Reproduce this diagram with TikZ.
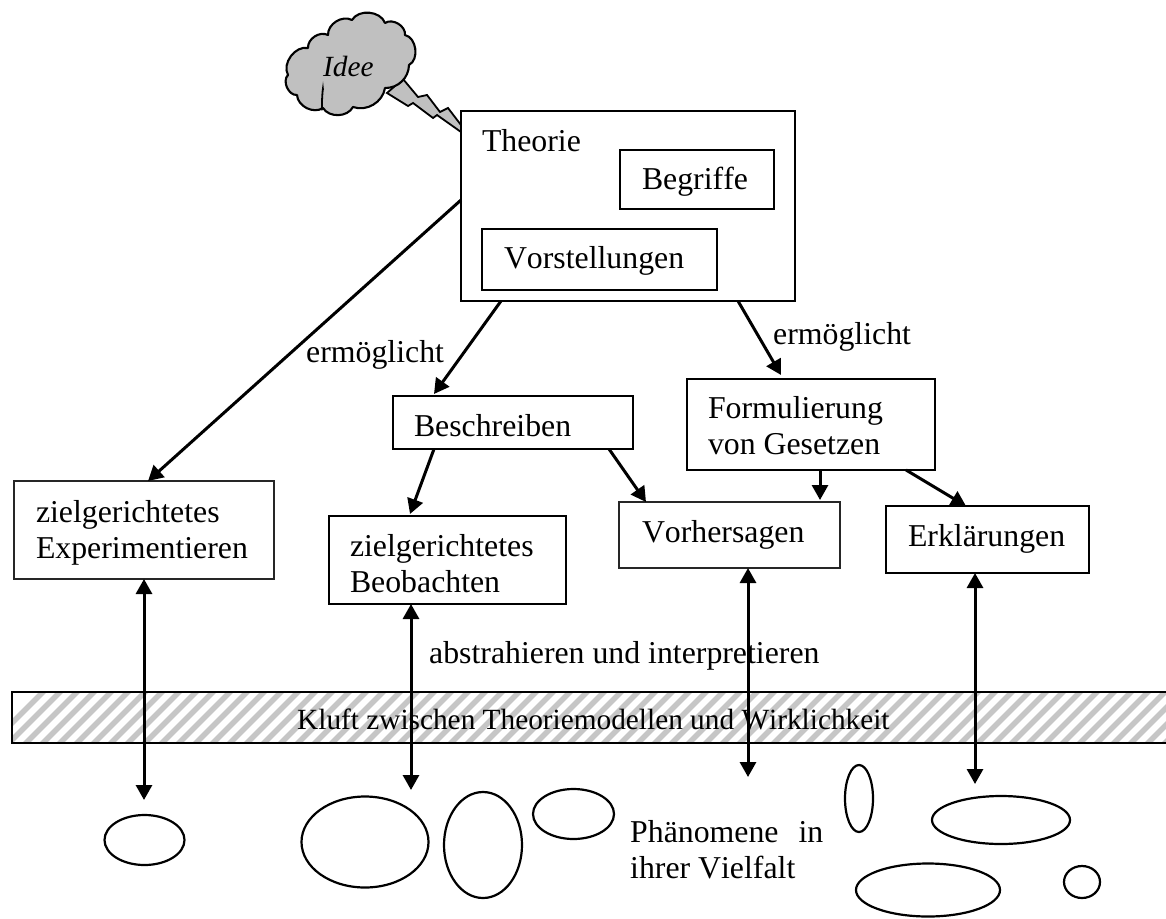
\documentclass[tikz,border=0pt]{standalone}
\usepackage{fontspec}
\setmainfont[Kerning=Off]{Liberation Serif}
\usetikzlibrary{arrows.meta}
\definecolor{hatchgray}{HTML}{C6C6C6}
\definecolor{cloudgray}{HTML}{C0C0C0}
\newcommand{\bigfont}{\fontsize{31.8}{36.8}\selectfont}
\newcommand{\smallfont}{\fontsize{29.3}{35}\selectfont}
\tikzset{
  arr/.style={line width=3pt,-{Triangle[length=15pt,width=16pt]}},
  dbl/.style={line width=3pt,{Triangle[length=15pt,width=16pt]}-{Triangle[length=15pt,width=16pt]}},
  label/.style={font=\bigfont,inner sep=0pt,anchor=base west},
  blob/.style={line width=2.2pt},
}
% name, x1, y1, x2, y2, text left, first baseline, text
\newcommand{\bx}[8]{%
  \pgfmathsetmacro{\bxw}{#4-#2}\pgfmathsetmacro{\bxh}{#5-#3}%
  \pgfmathsetmacro{\bxcx}{(#2+#4)/2}\pgfmathsetmacro{\bxcy}{(#3+#5)/2}%
  \pgfmathsetmacro{\bxoff}{#6-#2}\pgfmathsetmacro{\bxr}{\bxcy-#7}%
  \node[draw,line width=2.7pt,rectangle,outer sep=0pt,inner sep=0pt,minimum width=\bxw pt,minimum height=\bxh pt,font=\bigfont] (#1) at (\bxcx,\bxcy)
    {\makebox[\bxw pt][l]{\hspace*{\bxoff pt}\raisebox{\bxr pt}[0pt][0pt]{\parbox[t]{300pt}{\raggedright #8}}}};%
}
\begin{document}
\begin{tikzpicture}[x=1pt,y=-1pt]
\useasboundingbox (0,0) rectangle (1166,918);
% band
\begin{scope}
\clip (12,692) rectangle (1166,743);
\foreach \i in {0,...,72}{
  \draw[hatchgray,line width=5.5pt] ({12+\i*17-25},748) -- ({12+\i*17+37},686);
}
\end{scope}
\node[draw,line width=2.7pt,rectangle,outer sep=0pt,minimum width=1156pt,minimum height=51pt,inner sep=0pt,anchor=north west] (kluft) at (12,692) {};
\node[font=\smallfont,inner sep=0pt,anchor=base west] (kluftt) at (297,729) {Kluft zwischen Theoriemodellen und Wirklichkeit};
% bolt
\fill[cloudgray,draw=black,line width=1.8pt,line join=miter]
 (403,79) -- (418,97) -- (427,95) -- (440,112) -- (448,108) -- (461,125) -- (461,132)
 -- (437,115) -- (433,118) -- (413,103) -- (408,106) -- (387,93) -- cycle;
% cloud
\path[fill=cloudgray,draw=black,line width=2.1pt,line join=round]
 (288,75) to[bend left=65] (308,48)
 to[bend left=60] (328,35)
 to[bend left=60] (352,20)
 to[bend left=65] (385,23)
 to[bend left=65] (405,35)
 to[bend left=70] (409,65)
 to[bend left=45] (385,88)
 to[bend left=50] (353,107)
 to[bend left=60] (323,108)
 to[bend left=60] (297,95)
 to[bend left=70] (288,75) -- cycle;
\draw[line width=1.8pt] (323,108) to[out=-110,in=90] (323,90);
\node[font=\fontsize{29.3}{35}\selectfont\itshape,inner sep=0pt,anchor=base west] (idee) at (323,76) {Idee};
% boxes
\bx{theorie}{461}{111}{795}{301}{482}{151}{Theorie}
\bx{begriffe}{620}{150}{774}{209}{642}{189}{Begriffe}
\bx{vorst}{482}{229}{717}{290}{504}{268}{Vorstellungen}
\bx{beschr}{393}{396}{633}{449}{414}{436}{Beschreiben}
\bx{formul}{687}{379}{935}{470}{708}{418}{Formulierung\\von Gesetzen}
\begin{scope}[every node/.append style={draw=black!85}]
\bx{exper}{14}{481}{274}{579}{36}{522}{zielgerichtetes\\Experimentieren}
\bx{vorh}{619}{502}{840}{568}{642}{542}{Vorhersagen}
\end{scope}
\bx{beob}{329}{516}{566}{604}{350}{556}{zielgerichtetes\\Beobachten}
\bx{erkl}{886}{506}{1089}{573}{908}{546}{Erklärungen}
% labels
\node[label] (l1) at (306,362) {ermöglicht};
\node[label] (l2) at (773,344) {ermöglicht};
\node[label] (l3) at (429,663) {abstrahieren und interpretieren};
\node[label] (ph1) at (630,842) {Phänomene\hspace{20pt}in};
\node[label] (ph2) at (630,878) {ihrer Vielfalt};
% blobs
\draw[blob] (144.5,840) ellipse [x radius=40,y radius=25];
\draw[blob] (365,842) ellipse [x radius=63.5,y radius=45.5];
\draw[blob] (483,845) ellipse [x radius=39,y radius=53];
\draw[blob] (573.5,814) ellipse [x radius=40.5,y radius=25];
\draw[blob] (859,798.5) ellipse [x radius=14,y radius=33.5];
\draw[blob] (1001,820) ellipse [x radius=69,y radius=24];
\draw[blob] (928,890) ellipse [x radius=72,y radius=26.5];
\draw[blob] (1082,882) ellipse [x radius=18,y radius=16];
% free ends
\coordinate (b1) at (144,800);
\coordinate (b2) at (411,790);
\coordinate (b3) at (748,777);
\coordinate (b4) at (975,784);
% connectors
\draw[arr] ([yshift=-89]theorie.north west) -- ([xshift=134]exper.north west);
\draw[arr] ([xshift=40]theorie.south west) -- ([xshift=41,yshift=2]beschr.north west);
\draw[arr] ([xshift=277]theorie.south west) -- ([xshift=94,yshift=4]formul.north west);
\draw[arr] ([xshift=41]beschr.south west) -- ([xshift=81,yshift=2]beob.north west);
\draw[arr] ([xshift=216]beschr.south west) -- ([xshift=27]vorh.north west);
\draw[arr] ([xshift=133]formul.south west) -- ([xshift=201,yshift=2]vorh.north west);
\draw[arr] ([xshift=219]formul.south west) -- ([xshift=80]erkl.north west);
\draw[dbl] ([xshift=130]exper.south west) -- (b1);
\draw[dbl] ([xshift=82]beob.south west) -- (b2);
\draw[dbl] ([xshift=129]vorh.south west) -- (b3);
\draw[dbl] ([xshift=89]erkl.south west) -- (b4);
\end{tikzpicture}
\end{document}
